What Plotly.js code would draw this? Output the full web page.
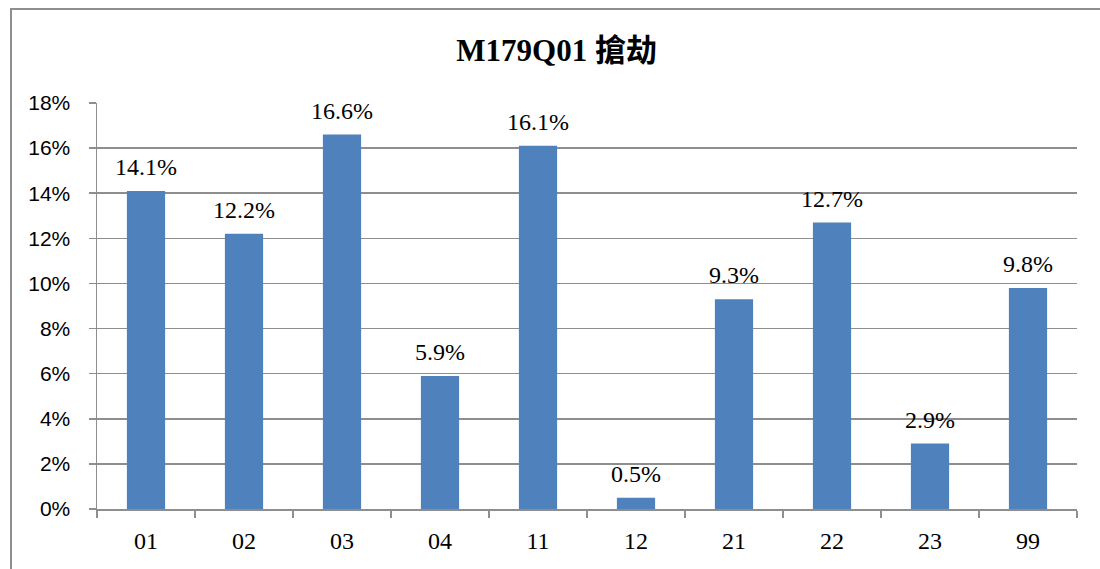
<!DOCTYPE html>
<html>
<head>
<meta charset="utf-8">
<script src="https://cdn.plot.ly/plotly-3.0.1.min.js"></script>
<style>
  html, body { margin: 0; padding: 0; background: #fff; }
  #wrap { position: relative; width: 1100px; height: 569px; overflow: hidden; }
  #chart { position: absolute; left: 0; top: 0; width: 1100px; height: 569px; }
  #frame { position: absolute; left: 10px; top: 8px; width: 1200px; height: 700px;
           border-left: 2px solid #8e8e8e; border-top: 2px solid #8e8e8e; pointer-events: none; }
</style>
</head>
<body>
<div id="wrap">
  <div id="chart"></div>
  <div id="frame"></div>
</div>
<script>
const categories = ["01", "02", "03", "04", "11", "12", "21", "22", "23", "99"];
const values = [14.1, 12.2, 16.6, 5.9, 16.1, 0.5, 9.3, 12.7, 2.9, 9.8];
const yTickVals = [0, 2, 4, 6, 8, 10, 12, 14, 16, 18];
const yTickText = ["0%", "2%", "4%", "6%", "8%", "10%", "12%", "14%", "16%", "18%"];
const titleText = "M179Q01 搶劫";

const serif = "Liberation Serif, Noto Sans CJK TC, serif";
const sans = "Liberation Sans, Arial, sans-serif";

const trace = {
  type: "bar",
  x: categories,
  y: values,
  marker: { color: "#4F81BD", line: { width: 0 } },
  hoverinfo: "skip"
};

const annotations = categories.map((c, i) => ({
  x: i,
  y: values[i],
  xref: "x",
  yref: "y",
  text: values[i].toFixed(1) + "%",
  showarrow: false,
  yanchor: "bottom",
  yshift: 9,
  font: { family: serif, size: 24, color: "#000" }
}));

const layout = {
  width: 1100,
  height: 569,
  margin: { l: 97, r: 23, t: 103, b: 60 },
  paper_bgcolor: "rgba(0,0,0,0)",
  plot_bgcolor: "rgba(0,0,0,0)",
  showlegend: false,
  bargap: 0.61,
  font: { family: serif },
  title: {
    text: "<b>" + titleText + "</b>",
    font: { family: serif, size: 31, color: "#000" },
    xref: "container",
    yref: "container",
    x: 0.506,
    xanchor: "center",
    y: 1 - 50 / 569,
    yanchor: "middle"
  },
  xaxis: {
    type: "category",
    categoryorder: "array",
    categoryarray: categories,
    range: [-0.5, categories.length - 0.5],
    tickson: "boundaries",
    ticks: "outside",
    ticklen: 7,
    tickwidth: 1.5,
    tickcolor: "#8e8e8e",
    showline: true,
    linecolor: "#8e8e8e",
    linewidth: 1.5,
    showgrid: false,
    tickangle: 0,
    ticklabelstandoff: 10,
    tickfont: { family: serif, size: 24, color: "#000" },
    fixedrange: true
  },
  yaxis: {
    range: [0, 18],
    tickmode: "array",
    tickvals: yTickVals,
    ticktext: yTickText,
    ticks: "outside",
    ticklen: 7,
    tickwidth: 1.5,
    tickcolor: "#8e8e8e",
    showline: true,
    linecolor: "#8e8e8e",
    linewidth: 1.5,
    showgrid: true,
    gridcolor: "#8e8e8e",
    gridwidth: 1.5,
    zeroline: false,
    ticklabelstandoff: 14,
    tickfont: { family: sans, size: 21, color: "#000" },
    fixedrange: true
  },
  annotations: annotations
};

Plotly.newPlot("chart", [trace], layout, { displayModeBar: false, staticPlot: true });
</script>
</body>
</html>
